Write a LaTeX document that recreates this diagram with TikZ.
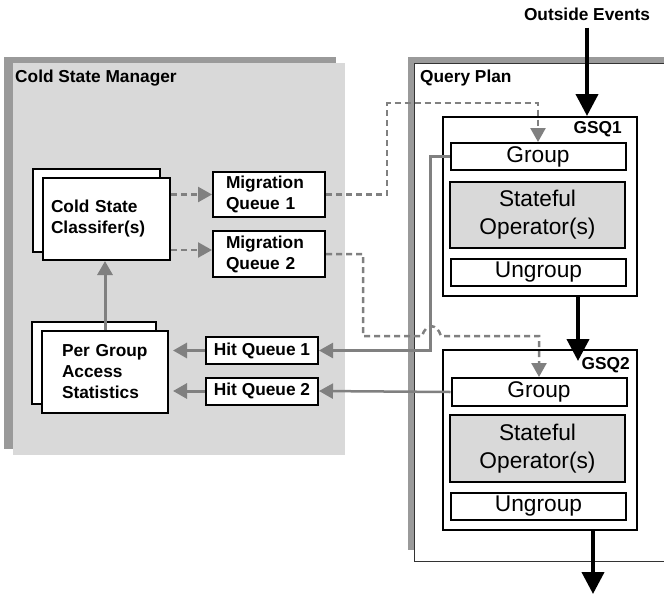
\documentclass[tikz,border=0pt]{standalone}
\usepackage{fontspec}
\setmainfont{Liberation Sans}
\usetikzlibrary{arrows.meta}

\definecolor{panelgray}{HTML}{D9D9D9}
\definecolor{shadowgray}{HTML}{9A9A9A}
\definecolor{linkgray}{HTML}{808080}

\tikzset{
  bold/.style={font=\fontsize{17.3}{21}\selectfont\bfseries},
  box/.style={draw=black, line width=2pt, fill=white, inner sep=0pt},
  opbox/.style={box, minimum width=175pt, font=\fontsize{22.7}{28}\selectfont, align=center},
  qbox/.style={box, bold, minimum width=112pt},
  bigarrow/.style={line width=4pt, -{Triangle[width=22pt,length=22pt]}},
  grayarrow/.style={draw=linkgray, line width=3pt, -{Triangle[width=15pt,length=14pt]}},
  hitline/.style={draw=linkgray, line width=2.5pt, -{Triangle[width=15pt,length=14pt]}},
  dasharrow/.style={draw=linkgray, line width=2.5pt, dash pattern=on 6pt off 4pt,
                    -{Triangle[width=15pt,length=14pt]}},
}

\begin{document}
\begin{tikzpicture}[x=1pt,y=-1pt]
\useasboundingbox (0,0) rectangle (664,595);
\clip (0,0) rectangle (664,595);

% ---- Cold State Manager panel ----
\fill[shadowgray] (4,57) rectangle (336,449);
\fill[panelgray] (13,63) rectangle (345,455);
\node[bold, inner sep=0pt, anchor=west] (csmtitle) at (15,78) {Cold State Manager};

% ---- Query Plan panel ----
\fill[shadowgray] (408,57) rectangle (670,550);
\draw[fill=white, line width=1pt, draw=black!80] (414.5,63) rectangle (670,561);
\node[bold, inner sep=0pt, anchor=west] (qptitle) at (420,78) {Query Plan};

% ---- outside events ----
\node[bold, inner sep=0pt] (outside) at (587,14) {Outside Events};

% ---- grouped stateful query 1 ----
\node[box, minimum width=194pt, minimum height=179pt] (gsq1) at (540,206.5) {};
\node[bold, inner sep=0pt, anchor=east] (gsq1lbl) at ([xshift=-16pt,yshift=-13pt]gsq1.north east) {GSQ1};
\node[opbox, minimum height=27pt] (group1) at (538,156.5) {Group};
\node[opbox, minimum height=66pt, fill=panelgray] (op1) at (537.5,215) {Stateful\\Operator(s)};
\node[opbox, minimum height=27pt] (ungroup1) at (538.5,272.5) {Ungroup};

% ---- grouped stateful query 2 ----
\node[box, minimum width=194pt, minimum height=180pt] (gsq2) at (540,440) {};
\node[bold, inner sep=0pt, anchor=east] (gsq2lbl) at ([xshift=-8pt,yshift=-16pt]gsq2.north east) {GSQ2};
\node[opbox, minimum height=28pt] (group2) at (539,392) {Group};
\node[opbox, minimum height=67pt, fill=panelgray] (op2) at (537.5,448.5) {Stateful\\Operator(s)};
\node[opbox, minimum height=27pt] (ungroup2) at (538.5,506.5) {Ungroup};

% ---- cold state classifiers (stacked) ----
\node[box, minimum width=127pt, minimum height=83pt] (clsback) at (96.5,210.5) {};
\node[box, bold, minimum width=127pt, minimum height=82pt, text width=111pt,
      inner xsep=8pt, align=left] (cls) at (106.5,219) {Cold State\\Classifer(s)};

% ---- per group access statistics (stacked) ----
\node[box, minimum width=124pt, minimum height=82pt] (pgaback) at (94,363) {};
\node[box, bold, minimum width=126pt, minimum height=82pt, text width=86pt,
      inner xsep=20pt, align=left] (pga) at (105,372) {Per Group\\Access\\Statistics};

% ---- queues ----
\node[qbox, minimum height=45pt, text width=86pt, inner xsep=13pt, align=left] (mq1) at (269,194.5) {Migration\\Queue 1};
\node[qbox, minimum height=46pt, text width=86pt, inner xsep=13pt, align=left] (mq2) at (269,254) {Migration\\Queue 2};
\node[qbox, minimum height=27pt] (hq1) at (262,350.5) {Hit Queue 1};
\node[qbox, minimum height=27pt] (hq2) at (262,391) {Hit Queue 2};

% ---- data flow through the query plan ----
\coordinate (sink) at (593,594);
\draw[bigarrow] ([yshift=-7pt]outside.south) -- (outside.south |- gsq1.north);
\draw[bigarrow] ([xshift=38pt]gsq1.south) -- ([xshift=38pt,yshift=-12pt]gsq2.north);
\draw[bigarrow] ([xshift=53pt]gsq2.south) -- (sink);

% ---- cold state manager internals ----
\draw[dasharrow] (cls.east |- mq1.west) -- (mq1.west);
\draw[dasharrow] ([yshift=4pt]cls.east |- mq2.west) -- ([yshift=4pt]mq2.west);
\draw[grayarrow] (pga.north) -- (pga.north |- cls.south);
\draw[grayarrow, shorten >=4pt] (hq1.west) -- (pga.east |- hq1.west);
\draw[grayarrow, shorten >=4pt] (hq2.west) -- (pga.east |- hq2.west);

% ---- hit reports from the group operators ----
\draw[hitline] (group1.west) -- ++(-19,0) |- (hq1.east);
\draw[hitline] (group2.west) -- (hq2.east);

% ---- migrations back into the query plan ----
\draw[dasharrow] (mq1.east) -| (387,103) -| (group1.north);
\draw[dasharrow] (mq2.east) -| (363,336) -- (422,336)
  .. controls (426,323) and (437,323) .. (441,336) -| (group2.north);
\end{tikzpicture}
\end{document}
